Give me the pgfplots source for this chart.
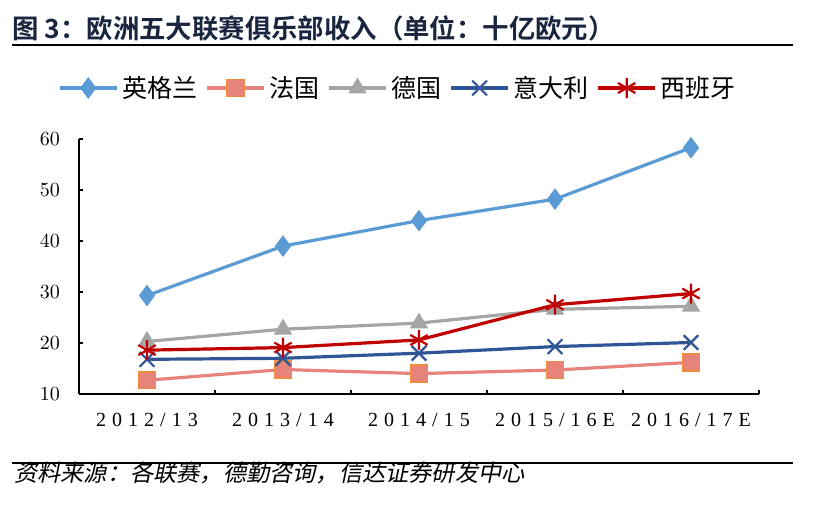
\documentclass[border=0pt]{standalone}
\usepackage{pgfplots}
\pgfplotsset{compat=1.18}
\usepackage{fontspec}
\setmainfont{Liberation Serif}
\newfontfamily\cjk{Noto Sans CJK SC}
\newfontfamily\cjkb{Noto Sans CJK SC Bold}
\newfontfamily\cjki[FakeSlant=0.2]{Noto Sans CJK SC}
\newfontfamily\tickfont[LetterSpace=30]{Liberation Serif}

\definecolor{cEng}{HTML}{5B9BD5}
\definecolor{cFra}{HTML}{E6837A}
\definecolor{cFraE}{HTML}{F28C3C}
\definecolor{cGer}{HTML}{A5A5A5}
\definecolor{cIta}{HTML}{2F5597}
\definecolor{cSpa}{HTML}{C00000}
\definecolor{cTitle}{HTML}{1A2640}

\begin{document}
\begin{tikzpicture}[x=0.5pt,y=0.5pt]
\path (0,0) rectangle (820,514);
% title and rules
\node[anchor=west,inner sep=0,text=cTitle,font=\cjkb\fontsize{13.2}{15}\selectfont] at (12,486) {图 3：欧洲五大联赛俱乐部收入（单位：十亿欧元）};
\draw[line width=1.3pt] (12,469) -- (793,469);
\draw[line width=1.3pt] (12,51) -- (793,51);
\node[anchor=west,inner sep=0,font=\cjki\fontsize{11.6}{13}\selectfont] at (14,41) {资料来源：各联赛，德勤咨询，信达证券研发中心};

\begin{axis}[
    at={(39.5pt,60pt)}, anchor=south west,
    scale only axis,
    width=340pt, height=127.5pt,
    xmin=-0.5, xmax=4.5,
    ymin=10, ymax=60,
    axis x line*=bottom,
    axis y line*=left,
    axis line style={line width=0.6pt, -},
    xtick={0,...,4},
    xticklabels={2012/13,2013/14,2014/15,2015/16E,2016/17E},
    major x tick style={draw=none},
    minor xtick={0.5,1.5,2.5,3.5,4.5},
    minor tick length=2pt,
    ytick={10,20,...,60},
    major tick length=2pt,
    tick align=inside,
    tick style={black, line width=0.6pt},
    tick label style={font=\tickfont\fontsize{10}{12}\selectfont},
    xticklabel style={yshift=-6pt},
    yticklabel style={xshift=-6pt},
    clip=false,
    legend columns=-1,
    legend style={draw=none, fill=none, at={(-0.04,1.2)}, anchor=west,
        font=\cjk\fontsize{12.5}{15}\selectfont,
        /tikz/every even column/.append style={column sep=2pt}},
    legend image code/.code={%
        \draw[mark repeat=2,mark phase=2] plot coordinates {(0cm,0cm)(0.5cm,0cm)(1cm,0cm)};},
    every axis plot/.append style={line width=1.6pt},
]
\addplot[color=cEng, mark=diamond*, mark size=5pt, mark options={fill=cEng, line width=0.5pt}]
    coordinates {(0,29.3)(1,39.0)(2,44.0)(3,48.2)(4,58.3)};
\addlegendentry{英格兰}
\addplot[color=cFra, mark=square*, mark size=4.2pt, mark options={fill=cFra, draw=cFraE, line width=0.8pt}]
    coordinates {(0,12.7)(1,14.8)(2,14.0)(3,14.7)(4,16.2)};
\addlegendentry{法国}
\addplot[color=cGer, mark=triangle*, mark size=4.8pt, mark options={fill=cGer, line width=0.5pt}]
    coordinates {(0,20.3)(1,22.7)(2,23.9)(3,26.6)(4,27.2)};
\addlegendentry{德国}
\addplot[color=cIta, mark=x, mark size=5.2pt, mark options={line width=1.1pt}]
    coordinates {(0,16.8)(1,17.0)(2,18.0)(3,19.3)(4,20.1)};
\addlegendentry{意大利}
\addplot[color=cSpa, mark=asterisk, mark size=5pt, mark options={line width=1.1pt}]
    coordinates {(0,18.6)(1,19.1)(2,20.6)(3,27.5)(4,29.7)};
\addlegendentry{西班牙}
\end{axis}
\end{tikzpicture}
\end{document}
